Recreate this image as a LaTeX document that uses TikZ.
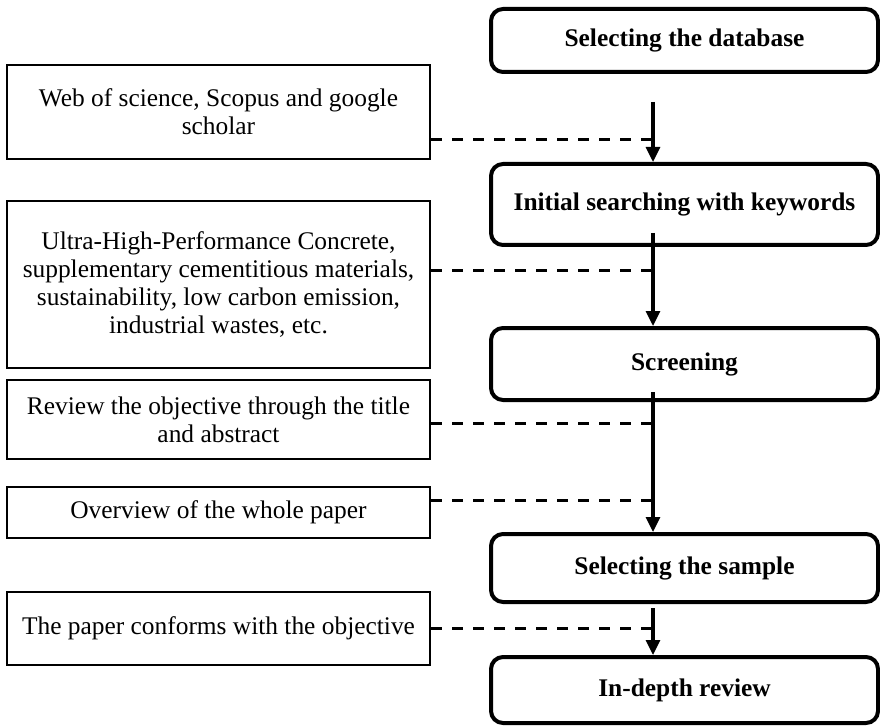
\documentclass[tikz,border=0pt]{standalone}
\usepackage{fontspec}
\setmainfont{Liberation Serif}
\usetikzlibrary{arrows.meta}
\begin{document}
\begin{tikzpicture}[x=1pt,y=-1pt,
  rbox/.style={draw, line width=4pt, rounded corners=12pt, minimum width=387pt, align=center,
    inner sep=0pt, font=\fontsize{25.4pt}{28pt}\selectfont\bfseries},
  lbox/.style={draw, line width=2.4pt, minimum width=423pt, align=center, inner sep=0pt,
    font=\fontsize{25.4pt}{28pt}\selectfont},
  flow/.style={line width=3.2pt, -{Triangle[width=14pt,length=15pt]}},
  link/.style={line width=3pt, dash pattern=on 11pt off 10pt}]
\useasboundingbox (0,0) rectangle (880,727);
% right column
\node[rbox, minimum height=63pt] (R1) at (684.5,40.5) {Selecting the database};
\node[rbox, minimum height=81pt] (R2) at (684.5,204.5) {Initial searching with keywords};
\node[rbox, minimum height=72pt] (R3) at (684.5,364) {Screening};
\node[rbox, minimum height=68pt] (R4) at (684.5,568) {Selecting the sample};
\node[rbox, minimum height=66pt] (R5) at (684.5,690) {In-depth review};
% left column
\node[lbox, minimum height=94pt] (L1) at (218.5,112) {Web of science, Scopus and google\\scholar};
\node[lbox, minimum height=167pt] (L2) at (218.5,284.5) {Ultra-High-Performance Concrete,\\supplementary cementitious materials,\\sustainability, low carbon emission,\\industrial wastes, etc.};
\node[lbox, minimum height=79pt] (L3) at (218.5,419.5) {Review the objective through the title\\and abstract};
\node[lbox, minimum height=51pt] (L4) at (218.5,512.5) {Overview of the whole paper};
\node[lbox, minimum height=73pt] (L5) at (218.5,628.5) {The paper conforms with the objective};
% arrow start points
\coordinate (s1) at (653,102);
\coordinate (s2) at (653,233);
\coordinate (s3) at (653,392);
\coordinate (s4) at (653,608);
% dashed link end points on the arrows
\coordinate (d1) at (653,140);
\coordinate (d2) at (653,270);
\coordinate (d3) at (653,423);
\coordinate (d4) at (653,500);
\coordinate (d5) at (653,628);
% flow arrows
\draw[flow] (s1) -- (s1 |- R2.north);
\draw[flow] (s2) -- (s2 |- R3.north);
\draw[flow] (s3) -- (s3 |- R4.north);
\draw[flow] (s4) -- (s4 |- R5.north);
% dashed links
\draw[link] (L1.east |- d1) -- (d1);
\draw[link] (L2.east |- d2) -- (d2);
\draw[link] (L3.east |- d3) -- (d3);
\draw[link] (L4.east |- d4) -- (d4);
\draw[link] (L5.east |- d5) -- (d5);
\end{tikzpicture}
\end{document}
